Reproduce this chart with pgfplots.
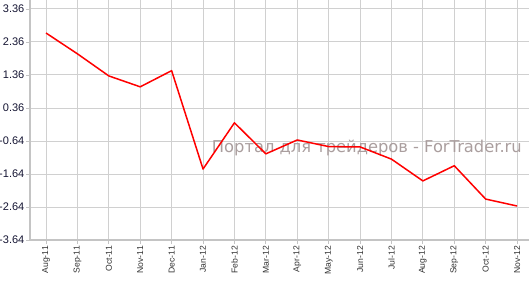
\documentclass[border=0pt]{standalone}
\usepackage{fontspec}
\setmainfont{Liberation Sans}
\newfontfamily\wmfont{DejaVu Sans}
\usepackage{pgfplots}
\pgfplotsset{compat=1.18}
\definecolor{gridc}{RGB}{208,208,208}
\definecolor{axc}{RGB}{196,196,196}
\definecolor{wmc}{RGB}{170,158,158}
\definecolor{lab}{RGB}{20,20,50}
\definecolor{xlab}{RGB}{50,50,50}
\begin{document}
\begin{tikzpicture}[x=1pt,y=1pt]
\begin{axis}[
  at={(0,0)}, anchor=south west,
  width=499pt, height=240pt, scale only axis,
  xmin=-0.51, xmax=15.38,
  ymin=-3.64, ymax=3.63,
  axis lines=left,
  axis line style={draw=axc, line width=2pt, -},
  xtick={0,...,15},
  xticklabels={Aug-11,Sep-11,Oct-11,Nov-11,Dec-11,Jan-12,Feb-12,Mar-12,Apr-12,May-12,Jun-12,Jul-12,Aug-12,Sep-12,Oct-12,Nov-12},
  ytick={-3.64,-2.64,-1.64,-0.64,0.36,1.36,2.36,3.36},
  yticklabels={-3.64,-2.64,-1.64,-0.64,0.36,1.36,2.36,3.36},
  tick align=outside,
  major tick length=4pt,
  tick style={draw=axc, line width=0.8pt},
  grid=major,
  major grid style={draw=gridc, line width=0.9pt},
  yticklabel style={font=\fontsize{11}{11}\selectfont, text=lab, inner sep=1.5pt},
  xticklabel style={rotate=90, anchor=east, font=\fontsize{8.6}{8.6}\selectfont, text=xlab, inner sep=2pt},
  clip=false,
]
\node[font=\wmfont\fontsize{16.3}{16.3}\selectfont, text=wmc] at (rel axis cs:0.675,0.383) {Портал для трейдеров - ForTrader.ru};
\addplot[red, line width=1.5pt, line join=round] coordinates {
(0,2.63) (1,2.00) (2,1.33) (3,1.00) (4,1.49) (5,-1.49) (6,-0.09) (7,-1.03)
(8,-0.61) (9,-0.81) (10,-0.82) (11,-1.19) (12,-1.85) (13,-1.39) (14,-2.40) (15,-2.61)
};
\end{axis}
\pgfresetboundingbox
\useasboundingbox (-30,-42) rectangle (499,240);
\end{tikzpicture}
\end{document}
